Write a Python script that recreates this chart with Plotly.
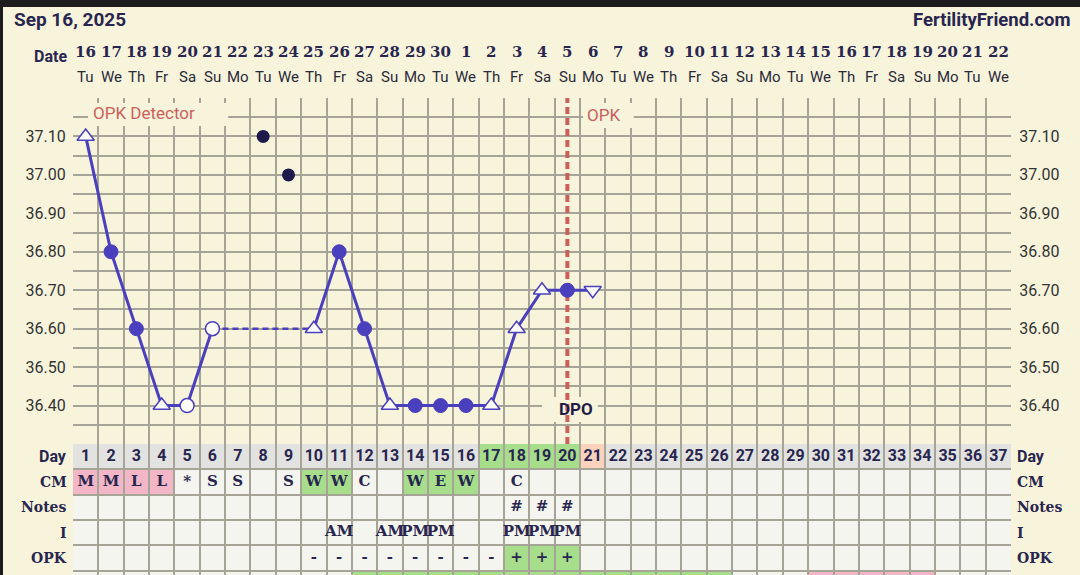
import plotly.graph_objects as go

# Palette du tableau Fertility Friend
CREAM = "#f8f4dc"
CELL_BG = "#f5f5ef"
DAY_BG = "#e2e2e0"
GREEN = "#a7de8c"
PINK = "#f2b6c7"
PEACH = "#fbd3bd"
GRID = "#a6a497"
NAVY = "#28264f"
LINE = "#4a3fbd"
RED = "#cc5f5a"

# --- données ---
cycle_days = list(range(1, 38))
date_nums = ["16", "17", "18", "19", "20", "21", "22", "23", "24", "25", "26", "27",
             "28", "29", "30", "1", "2", "3", "4", "5", "6", "7", "8", "9", "10",
             "11", "12", "13", "14", "15", "16", "17", "18", "19", "20", "21", "22"]
weekdays = ["Tu", "We", "Th", "Fr", "Sa", "Su", "Mo", "Tu", "We", "Th", "Fr", "Sa",
            "Su", "Mo", "Tu", "We", "Th", "Fr", "Sa", "Su", "Mo", "Tu", "We", "Th",
            "Fr", "Sa", "Su", "Mo", "Tu", "We", "Th", "Fr", "Sa", "Su", "Mo", "Tu", "We"]

bbt_days = [1, 2, 3, 4, 5, 6, 10, 11, 12, 13, 14, 15, 16, 17, 18, 19, 20, 21]
bbt_temps = [37.10, 36.80, 36.60, 36.40, 36.40, 36.60, 36.60, 36.80, 36.60, 36.40,
             36.40, 36.40, 36.40, 36.40, 36.60, 36.70, 36.70, 36.70]
bbt_marks = ["tri", "dot", "dot", "tri", "open", "open", "tri", "dot", "dot", "tri",
             "dot", "dot", "dot", "tri", "tri", "tri", "dot", "tri_down"]
discarded_days = [8, 9]
discarded_temps = [37.10, 37.00]
ovulation_day = 20

cm_row = {1: "M", 2: "M", 3: "L", 4: "L", 5: "*", 6: "S", 7: "S", 9: "S", 10: "W",
          11: "W", 12: "C", 14: "W", 15: "E", 16: "W", 18: "C"}
notes_row = {18: "#", 19: "#", 20: "#"}
i_row = {11: "AM", 13: "AM", 14: "PM", 15: "PM", 18: "PM", 19: "PM", 20: "PM"}
opk_row = {10: "-", 11: "-", 12: "-", 13: "-", 14: "-", 15: "-", 16: "-", 17: "-",
           18: "+", 19: "+", 20: "+"}

# couleurs de cellules : (ligne, jours, couleur)
cell_colors = [
    (0, [17, 18, 19, 20], GREEN),
    (0, [21], PEACH),
    (1, [1, 2, 3, 4], PINK),
    (1, [10, 11, 14, 15, 16], GREEN),
    (4, [18, 19, 20], GREEN),
    (5, list(range(12, 27)), GREEN),
    (5, [30, 31, 32, 33, 34], PINK),
]
row_labels = ["Day", "CM", "Notes", "I", "OPK"]

temp_ticks = [round(36.30 + 0.05 * k, 2) for k in range(19)]
temp_text = [f"{t:.2f}" if (k % 2 == 0 and 36.39 < t < 37.11) else ""
             for k, t in enumerate(temp_ticks)]

# géométrie (pixels de la fenêtre 1080x575)
L, R, T, B = 73, 69, 98, 0
H = 575
split = (H - 444) / (H - T)


def py(p):
    return (H - p) / (H - T)


def px(p):
    return (p - L) / (1080 - L - R)


fig = go.Figure()

# segments de courbe (pleins) et liaison pointillée au-dessus des jours manquants
seg = [[bbt_days[0]], [bbt_temps[0]]]
segments, gaps = [], []
for i in range(1, len(bbt_days)):
    if bbt_days[i] - bbt_days[i - 1] > 1:
        segments.append(seg)
        gaps.append(([bbt_days[i - 1], bbt_days[i]], [bbt_temps[i - 1], bbt_temps[i]]))
        seg = [[], []]
    seg[0].append(bbt_days[i])
    seg[1].append(bbt_temps[i])
segments.append(seg)

for sx, sy in segments:
    fig.add_trace(go.Scatter(x=sx, y=sy, mode="lines",
                             line=dict(color=LINE, width=3), hoverinfo="skip"))
for gx, gy in gaps:
    fig.add_trace(go.Scatter(x=gx, y=gy, mode="lines",
                             line=dict(color=LINE, width=2.5, dash="6px,4px"), hoverinfo="skip"))

styles = {
    "dot": dict(symbol="circle", size=14, color=LINE, line=dict(color=LINE, width=1)),
    "open": dict(symbol="circle", size=14, color="white", line=dict(color=LINE, width=1.5)),
    "tri": dict(symbol="triangle-up", size=15, color="white", line=dict(color=LINE, width=1.5)),
    "tri_down": dict(symbol="triangle-down", size=15, color="white", line=dict(color=LINE, width=1.5)),
}
for kind, st in styles.items():
    xs = [d for d, m in zip(bbt_days, bbt_marks) if m == kind]
    ys = [t for t, m in zip(bbt_temps, bbt_marks) if m == kind]
    fig.add_trace(go.Scatter(x=xs, y=ys, mode="markers", marker=st, hoverinfo="skip"))

fig.add_trace(go.Scatter(x=discarded_days, y=discarded_temps, mode="markers",
                         marker=dict(symbol="circle", size=13, color="#1d1a4c"),
                         hoverinfo="skip", yaxis="y3"))

# textes du tableau
sans_b = dict(family="Roboto", size=16, color=NAVY, weight="bold")
serif_b = dict(family="DejaVu Serif", size=15, color=NAVY, weight="bold")
fig.add_trace(go.Scatter(x=cycle_days, y=[0.5] * 37, mode="text", yaxis="y2",
                         text=[str(d) for d in cycle_days], textfont=sans_b,
                         hoverinfo="skip", cliponaxis=False))
for r, row in enumerate([cm_row, notes_row, i_row, opk_row], start=1):
    fig.add_trace(go.Scatter(x=list(row.keys()), y=[r + 0.5] * len(row), mode="text",
                             yaxis="y2", text=list(row.values()), textfont=serif_b,
                             hoverinfo="skip", cliponaxis=False))

shapes = [
    dict(type="rect", xref="paper", yref="paper", x0=px(-5), x1=px(1090),
         y0=py(7), y1=py(-10), fillcolor="#1c1c1c", line_width=0, layer="above"),
    dict(type="rect", xref="paper", yref="paper", x0=px(-5), x1=px(3),
         y0=py(580), y1=py(-10), fillcolor="#1c1c1c", line_width=0, layer="above"),
    dict(type="rect", xref="x", yref="y2", x0=0.5, x1=37.5, y0=0, y1=6,
         fillcolor=CELL_BG, line_width=0, layer="below"),
    dict(type="rect", xref="x", yref="y2", x0=0.5, x1=37.5, y0=0, y1=1,
         fillcolor=DAY_BG, line_width=0, layer="below"),
]
for r, days, col in cell_colors:
    for d in days:
        shapes.append(dict(type="rect", xref="x", yref="y2", x0=d - 0.5, x1=d + 0.5,
                           y0=r, y1=r + 1, fillcolor=col, line_width=0, layer="below"))
# fonds des étiquettes (cachent la grille)
for x0, x1, y0, y1 in [(1.09, 6.62, 37.127, 37.187), (20.62, 22.62, 37.122, 37.187),
                       (19.0, 21.2, 36.357, 36.422)]:
    shapes.append(dict(type="rect", xref="x", yref="y", x0=x0, x1=x1, y0=y0, y1=y1,
                       fillcolor=CREAM, line_width=0, layer="between"))
shapes.append(dict(type="line", xref="x", yref="y", x0=ovulation_day, x1=ovulation_day,
                   y0=36.30, y1=37.20, line=dict(color=RED, width=4, dash="7px,4px"),
                   layer="between"))

ann = [
    dict(text="Sep 16, 2025", x=px(12), y=py(19), xanchor="left",
         font=dict(family="Roboto", size=19, color=NAVY, weight="bold")),
    dict(text="FertilityFriend.com", x=px(1073), y=py(20), xanchor="right",
         font=dict(family="Roboto", size=18.5, color=NAVY, weight="bold")),
    dict(text="Date", x=px(69), y=py(57), xanchor="right",
         font=dict(family="Roboto", size=16, color=NAVY, weight="bold")),
    dict(text="OPK Detector", x=1.2, xref="x", y=37.16, yref="y", xanchor="left",
         font=dict(family="Roboto", size=17, color=RED)),
    dict(text="OPK", x=20.68, xref="x", y=37.155, yref="y", xanchor="left",
         font=dict(family="Roboto", size=17, color=RED)),
    dict(text="DPO", x=20.36, xref="x", y=36.39, yref="y",
         font=dict(family="Roboto", size=17, color="#1f1d45", weight="bold")),
]
for d, n, w in zip(cycle_days, date_nums, weekdays):
    ann.append(dict(text=n, x=d, xref="x", y=py(52),
                    font=dict(family="DejaVu Serif", size=15, color=NAVY, weight="bold")))
    ann.append(dict(text=w, x=d, xref="x", y=py(77),
                    font=dict(family="Roboto", size=15, color="#2a2a3a")))
for r, lab in enumerate(row_labels):
    f = sans_b if lab == "Day" else dict(family="DejaVu Serif", size=14, color=NAVY, weight="bold")
    ann.append(dict(text=lab, x=px(69), y=r + 0.5, yref="y2", xanchor="right", font=f))
    ann.append(dict(text=lab, x=px(1015), y=r + 0.5, yref="y2", xanchor="left", font=f))
for a in ann:
    a.setdefault("xref", "paper")
    a.setdefault("yref", "paper")
    a["showarrow"] = False
    a["yanchor"] = "middle"

tick_font = dict(family="Roboto", size=16, color="#333333")
fig.update_layout(
    width=1080, height=575,
    margin=dict(l=L, r=R, t=T, b=B),
    paper_bgcolor=CREAM, plot_bgcolor=CREAM,
    showlegend=False,
    shapes=shapes, annotations=ann,
    xaxis=dict(range=[0.5, 37.5], tickvals=[k + 0.5 for k in range(38)],
               showticklabels=False, showgrid=True, gridcolor=GRID, gridwidth=1.5,
               zeroline=False, ticks="", anchor="y2"),
    yaxis=dict(domain=[split, 1], range=[36.30, 37.20], tickvals=temp_ticks,
               ticktext=temp_text, showgrid=True, gridcolor=GRID, gridwidth=1.5,
               zeroline=False, ticks="outside", ticklen=3, tickcolor="rgba(0,0,0,0)",
               tickfont=tick_font, anchor="x"),
    yaxis2=dict(domain=[0, split], range=[(H - 444) / 25.3, 0], tickvals=[0, 1, 2, 3, 4, 5],
                showticklabels=False, showgrid=True, gridcolor=GRID, gridwidth=1.5,
                zeroline=False, ticks="", anchor="x"),
    yaxis3=dict(overlaying="y", side="right", range=[36.30, 37.20], tickvals=temp_ticks,
                ticktext=temp_text, showgrid=False, zeroline=False, ticks="outside",
                ticklen=4, tickcolor="rgba(0,0,0,0)", tickfont=tick_font, anchor="x"),
)

fig.write_html("out.html", config={"displayModeBar": False},
               post_script="document.body.style.margin='0';")
